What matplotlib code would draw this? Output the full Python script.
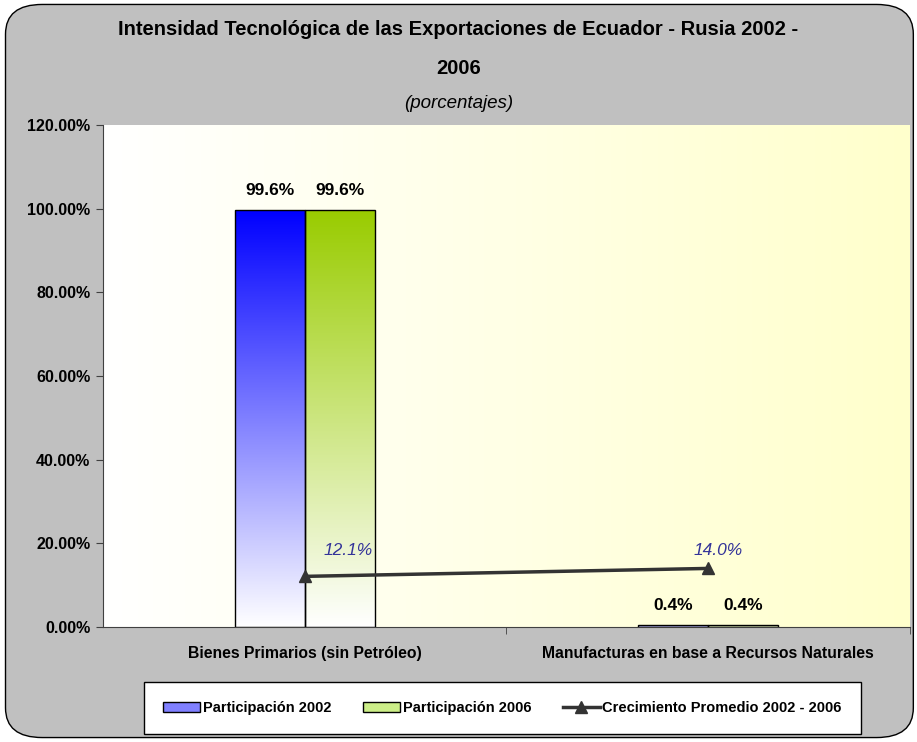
import numpy as np
import matplotlib.pyplot as plt
from matplotlib.patches import FancyBboxPatch, Patch
from matplotlib.lines import Line2D
from matplotlib.colors import LinearSegmentedColormap

plt.rcParams['font.family'] = ['Liberation Sans', 'DejaVu Sans']

# data
categories = ['Bienes Primarios (sin Petróleo)', 'Manufacturas en base a Recursos Naturales']
part_2002 = [99.6, 0.4]
part_2006 = [99.6, 0.4]
crecimiento = [12.1, 14.0]
series_names = ['Participación 2002', 'Participación 2006', 'Crecimiento Promedio 2002 - 2006']

# label offsets for the growth line (x in category units, y in %)
growth_dx = [0.107, 0.025]
growth_dy = [4.3, 2.6]

fig = plt.figure(figsize=(9.17, 7.42), dpi=100)
fig.patch.set_facecolor('white')

# rounded gray background
bg = FancyBboxPatch((0.006, 0.006), 0.99, 0.988, boxstyle='round,pad=0,rounding_size=0.04',
                    transform=fig.transFigure, facecolor='#c0c0c0', edgecolor='black',
                    linewidth=1.0, zorder=-10)
fig.patches.append(bg)

ax = fig.add_axes([0.1123, 0.155, 0.880, 0.6765])
ax.set_facecolor('none')

x = np.arange(len(categories))
w = 0.173

# plot area gradient white -> light yellow
area_cmap = LinearSegmentedColormap.from_list('area', ['#ffffff', '#ffffcc'])
ax.imshow(np.linspace(0, 1, 256).reshape(1, -1), cmap=area_cmap, aspect='auto',
          extent=(-0.5, 1.5, 0, 120), zorder=0)

blue_cmap = LinearSegmentedColormap.from_list('b', ['#ffffff', '#0000ff'])
green_cmap = LinearSegmentedColormap.from_list('g', ['#ffffff', '#99cc00'])
grad = np.linspace(0, 1, 256).reshape(-1, 1)

for vals, offs, cmap in [(part_2002, -w / 2, blue_cmap), (part_2006, w / 2, green_cmap)]:
    bars = ax.bar(x + offs, vals, width=w, facecolor='none', edgecolor='black', linewidth=1.0, zorder=3)
    for b in bars:
        x0, y0 = b.get_x(), b.get_y()
        im = ax.imshow(grad, cmap=cmap, aspect='auto', origin='lower',
                       extent=(x0, x0 + b.get_width(), y0, y0 + b.get_height()), zorder=2)
        im.set_clip_path(b)
    for xi, v in zip(x + offs, vals):
        ax.text(xi, v + 3.0, f'{v:.1f}%', ha='center', va='bottom', fontsize=12.5,
                fontweight='bold', color='black', zorder=5)

ax.plot(x, crecimiento, color='#333333', linewidth=2.5, marker='^', markersize=8, zorder=4)
for xi, v, dx, dy in zip(x, crecimiento, growth_dx, growth_dy):
    ax.text(xi + dx, v + dy, f'{v:.1f}%', ha='center', va='bottom', fontsize=12.5,
            fontstyle='italic', color='#333399', zorder=5)

ax.set_xlim(-0.5, 1.5)
ax.set_ylim(0, 120)
ax.set_yticks(np.arange(0, 121, 20))
ax.set_yticklabels([f'{t:.2f}%' for t in np.arange(0, 121, 20)], fontsize=11.5, fontweight='bold')
ax.set_xticks(x)
ax.set_xticklabels(categories, fontsize=11.3, fontweight='bold')
ax.tick_params(axis='x', length=0, pad=14)
ax.set_xticks([0.5, 1.5], minor=True)
ax.tick_params(axis='x', which='minor', length=5, color='#404040')
ax.tick_params(axis='y', length=5, color='#404040', pad=4)
for s in ['top', 'right']:
    ax.spines[s].set_visible(False)
for s in ['left', 'bottom']:
    ax.spines[s].set_color('#404040')

fig.text(0.5, 0.960, 'Intensidad Tecnológica de las Exportaciones de Ecuador - Rusia 2002 -',
         ha='center', va='center', fontsize=14.5, fontweight='bold')
fig.text(0.5, 0.908, '2006', ha='center', va='center', fontsize=14.5, fontweight='bold')
fig.text(0.5, 0.861, '(porcentajes)', ha='center', va='center', fontsize=13.5, fontstyle='italic')

handles = [
    Patch(facecolor='#8080ff', edgecolor='black', label=series_names[0]),
    Patch(facecolor='#ccee88', edgecolor='black', label=series_names[1]),
    Line2D([], [], color='#333333', linewidth=2.5, marker='^', markersize=8, label=series_names[2]),
]
leg = fig.legend(handles=handles, loc='center', bbox_to_anchor=(0.548, 0.046), ncol=3,
                 frameon=True, fancybox=False, edgecolor='black', framealpha=1,
                 prop={'size': 10.5, 'weight': 'bold'}, handlelength=2.5, columnspacing=2.2,
                 borderpad=1.3, handletextpad=0.2)
leg.get_frame().set_linewidth(1.0)

fig.savefig('out.png', dpi=100, facecolor='white')
